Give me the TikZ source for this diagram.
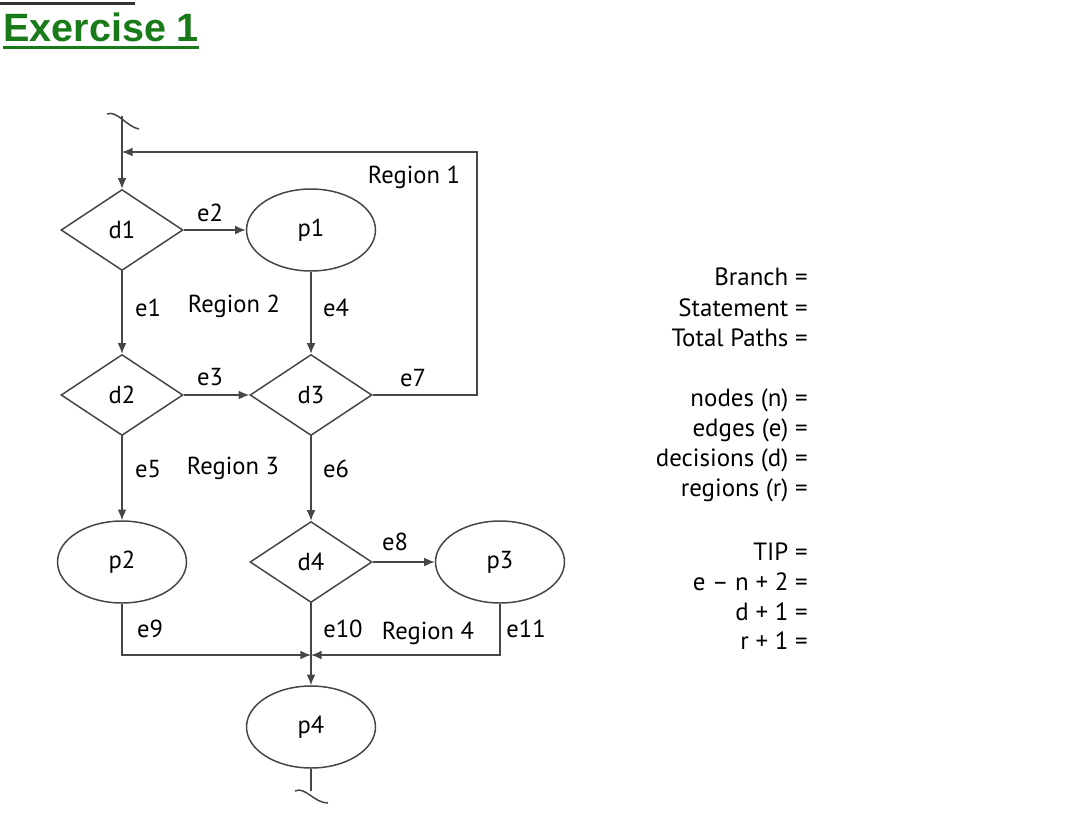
\documentclass[tikz,border=0pt]{standalone}
\usepackage{fontspec}
\setmainfont{PT Sans}
\newfontfamily\headfont{Liberation Sans}
\usetikzlibrary{shapes.geometric,arrows.meta}
\definecolor{headgreen}{RGB}{24,122,24}
\definecolor{wire}{RGB}{70,70,70}
\tikzset{
	decision/.style={diamond, draw=wire, line width=0.85pt, minimum width=2.44cm, minimum height=1.62cm, inner sep=0pt, font=\fontsize{14}{16}\selectfont},
	process/.style={ellipse, draw=wire, line width=0.85pt, minimum width=2.58cm, minimum height=1.64cm, inner sep=0pt, font=\fontsize{14}{16}\selectfont},
	flow/.style={draw=wire, line width=0.85pt, -{Latex[length=6pt,width=5pt]}},
	wireline/.style={draw=wire, line width=0.85pt},
	elabel/.style={font=\fontsize{14}{16}\selectfont, inner sep=0pt},
	sumline/.style={anchor=east, font=\fontsize{14.2}{17}\selectfont, inner sep=0pt}
}

\begin{document}
\begin{tikzpicture}[x=0.02cm, y=-0.02cm]
	\useasboundingbox (0,0) rectangle (1079,823);

	% Heading:
	\draw[black!80, line width=1.7pt] (0,3) -- (135,3);
	\node[anchor=base west, inner sep=0pt, text=headgreen, font=\headfont\bfseries\fontsize{22.5}{26}\selectfont] (title) at (3,41) {Exercise 1};
	\draw[headgreen, line width=1.7pt] (3,47) -- (title.east |- 3,47);

	% Nodes:
	\node[decision] (d1) at (122,230) {d1};
	\node[process] (p1) at (311,230) {p1};
	\node[decision] (d2) at (122,395) {d2};
	\node[decision] (d3) at (311,395) {d3};
	\node[process] (p2) at (122,562) {p2};
	\node[decision] (d4) at (311,562) {d4};
	\node[process] (p3) at (500,562) {p3};
	\node[process] (p4) at (311,727) {p4};

	\coordinate (entry) at (122,116);
	\coordinate (merge) at (122,152);
	\coordinate (loopcorner) at (477,152);
	\coordinate (join) at (311,655);
	\coordinate (exit) at (311,791);

	% Edges:
	\draw[flow] (entry) -- (d1);
	\draw[wire, line width=0.85pt] (107,114) .. controls (117,110) and (127,127) .. (139,129);
	\draw[flow] (d1) -- (p1);
	\draw[flow] (d1) -- (d2);
	\draw[flow] (p1) -- (d3);
	\draw[flow] (d2) -- (d3);
	\draw[flow] (d3) -| (loopcorner) -- (merge);
	\draw[flow] (d2) -- (p2);
	\draw[flow] (d3) -- (d4);
	\draw[flow] (d4) -- (p3);
	\draw[flow] (p2) |- (join);
	\draw[flow] (p3) |- (join);
	\draw[flow] (d4) -- (p4);
	\draw[wireline] (p4) -- (exit);
	\draw[wire, line width=0.85pt] (295,791) .. controls (305,786) and (314,803) .. (328,803);

	% Edge and region labels:
	\node[elabel] (le2) at (210,213) {e2};
	\node[elabel] (le1) at (148,308) {e1};
	\node[elabel] (le4) at (336,308) {e4};
	\node[elabel] (le3) at (210,377) {e3};
	\node[elabel] (le7) at (413,378) {e7};
	\node[elabel] (le5) at (148,469) {e5};
	\node[elabel] (le6) at (336,469) {e6};
	\node[elabel] (le8) at (395,542) {e8};
	\node[elabel] (le9) at (150,629) {e9};
	\node[elabel] (le10) at (343,629) {e10};
	\node[elabel] (le11) at (526,629) {e11};
	\node[elabel] (reg1) at (414,177) {Region 1};
	\node[elabel] (reg2) at (234,306) {Region 2};
	\node[elabel] (reg3) at (233,468) {Region 3};
	\node[elabel] (reg4) at (428,633) {Region 4};

	% Metrics column:
	\foreach \y/\txt [count=\i] in {277/Branch =, 308/Statement =, 338/Total Paths =,
			400/nodes (n) =, 430/edges (e) =, 460/decisions (d) =, 490/regions (r) =,
			552/TIP =, 582/e – n + 2 =, 612/d + 1 =, 641/r + 1 =}
		\node[sumline] (sum\i) at (808,\y) {\txt};
\end{tikzpicture}
\end{document}
